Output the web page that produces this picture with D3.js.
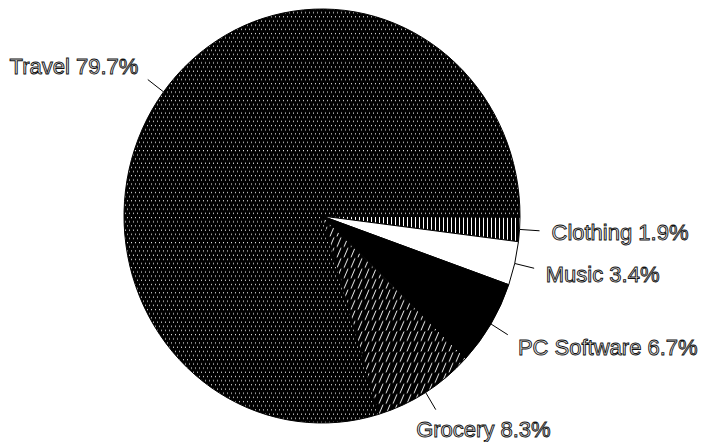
<!DOCTYPE html>
<html>
<head>
<meta charset="utf-8">
<script src="https://cdn.jsdelivr.net/npm/d3@7"></script>
<style>
  body { margin: 0; background: #fff; }
  svg { display: block; }
</style>
</head>
<body>
<div id="chart"></div>
<script>
var categories = ["Clothing", "Music", "PC Software", "Grocery", "Travel"];
var shares = [1.9, 3.4, 6.7, 8.3, 79.7];
var fills = ["url(#vert)", "#fff", "#000", "url(#diag)", "url(#dots)"];

var width = 707, height = 442;
var cx = 322, cy = 216, rx = 198, ry = 207;

var svg = d3.select("#chart").append("svg")
    .attr("width", width)
    .attr("height", height);

// fill patterns
var defs = svg.append("defs");

var dots = defs.append("pattern").attr("id", "dots")
    .attr("patternUnits", "userSpaceOnUse")
    .attr("width", 4).attr("height", 8);
dots.append("rect").attr("width", 4).attr("height", 8).attr("fill", "#000");
dots.append("rect").attr("x", 1).attr("y", 1).attr("width", 1).attr("height", 1).attr("fill", "#fff");
dots.append("rect").attr("x", 3).attr("y", 5).attr("width", 1).attr("height", 1).attr("fill", "#fff");

var vert = defs.append("pattern").attr("id", "vert")
    .attr("patternUnits", "userSpaceOnUse")
    .attr("width", 4).attr("height", 4);
vert.append("rect").attr("width", 4).attr("height", 4).attr("fill", "#000");
vert.append("rect").attr("x", 1).attr("y", 0).attr("width", 1).attr("height", 4).attr("fill", "#fff");

var diag = defs.append("pattern").attr("id", "diag")
    .attr("patternUnits", "userSpaceOnUse")
    .attr("width", 7).attr("height", 10);
diag.append("rect").attr("width", 7).attr("height", 10).attr("fill", "#000");
diag.append("line").attr("x1", 1).attr("y1", 9.5).attr("x2", 5).attr("y2", 0.5)
    .attr("stroke", "#fff").attr("stroke-width", 0.9);

var start = 90.3 * Math.PI / 180;
var pie = d3.pie().sort(null).value(function(d) { return d; })
    .startAngle(start).endAngle(start + 2 * Math.PI);
var arcs = pie(shares);

var arc = d3.arc().innerRadius(0).outerRadius(rx);

var g = svg.append("g")
    .attr("transform", "translate(" + cx + "," + cy + ") scale(1," + (ry / rx) + ")");

g.selectAll("path")
    .data(arcs)
    .enter().append("path")
    .attr("d", arc)
    .attr("fill", function(d, i) { return fills[i]; })
    .attr("stroke", "#000")
    .attr("stroke-width", 1)
    .attr("vector-effect", "non-scaling-stroke");

// leader lines and labels
var fmt = d3.format(".1f");
var labels = svg.append("g");

arcs.forEach(function(d, i) {
    var m = (d.startAngle + d.endAngle) / 2;
    var s = Math.sin(m), c = Math.cos(m);
    var p0 = [cx + rx * s, cy - ry * c];
    var len = Math.hypot(rx * s, ry * c);
    var u = [rx * s / len, -ry * c / len];
    var p1 = [p0[0] + u[0] * 20, p0[1] + u[1] * 20];

    labels.append("line")
        .attr("x1", p0[0]).attr("y1", p0[1])
        .attr("x2", p1[0]).attr("y2", p1[1])
        .attr("stroke", "#000").attr("stroke-width", 1);

    var t = labels.append("text")
        .attr("font-family", "Liberation Sans, Arial, sans-serif")
        .attr("font-size", 22)
        .attr("fill", "#e8e8e8")
        .attr("stroke", "#111")
        .attr("stroke-width", 0.9)
        .text(categories[i] + " " + fmt(shares[i]) + "%");

    var w = t.node().getComputedTextLength();
    var f = Math.max(0, Math.min(1, (0.8 - s) / 1.45));
    var ax = p1[0] + u[0] * 12;
    var ty = p1[1] + u[1] * 22;
    t.attr("x", ax - w * f).attr("y", ty + 8);
});
</script>
</body>
</html>
